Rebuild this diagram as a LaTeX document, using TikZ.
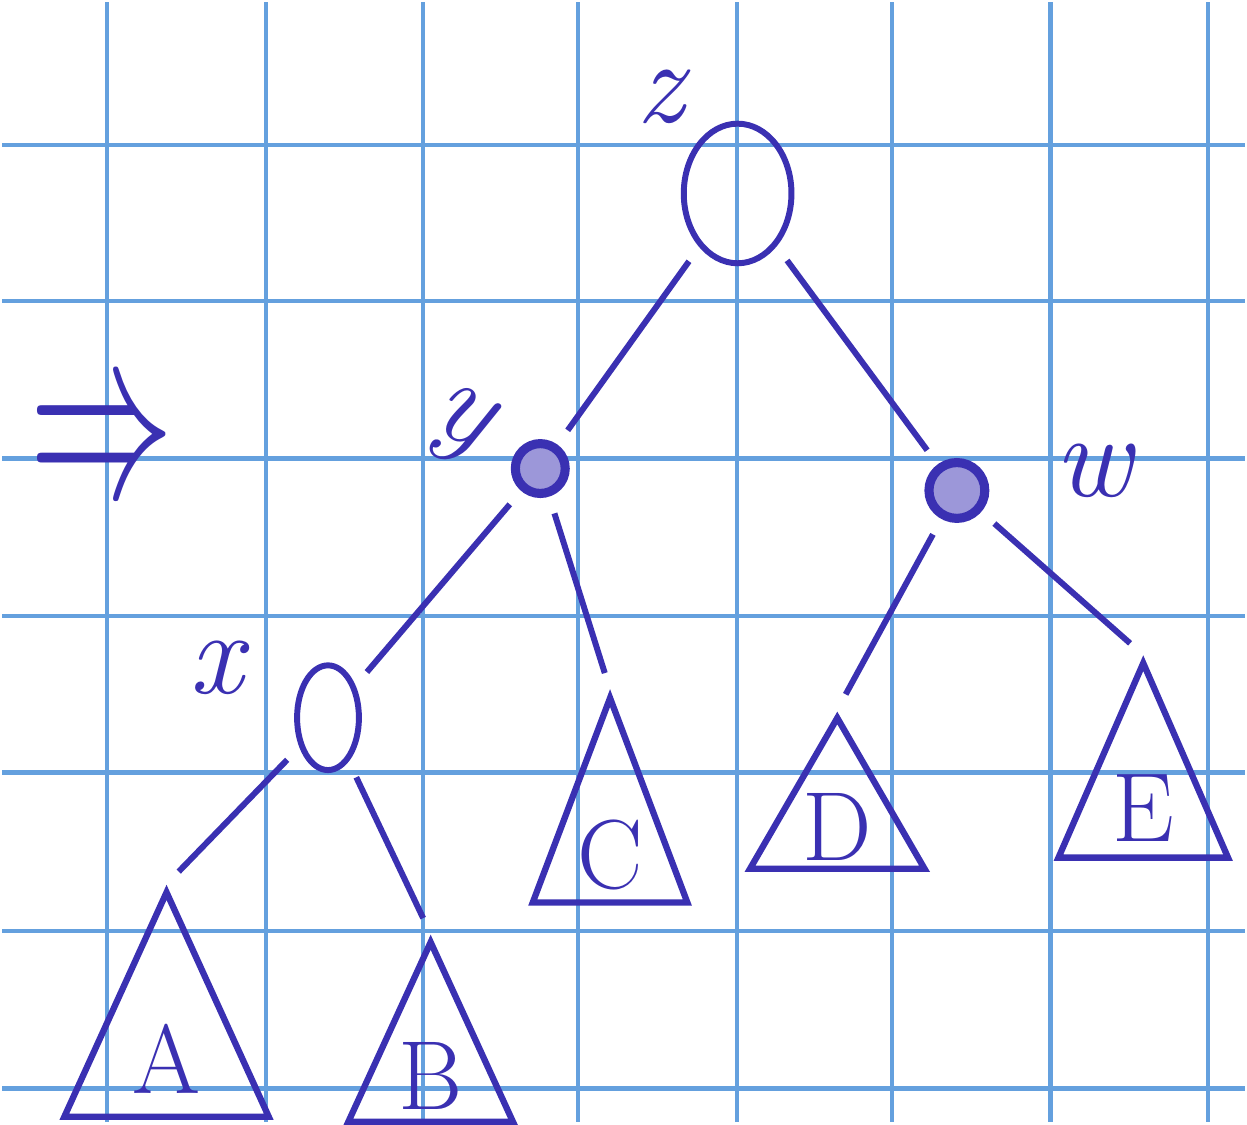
\documentclass[tikz,border=0pt]{standalone}
\usepackage{xcolor}
\usepackage{tikz}
\usetikzlibrary{shapes.geometric}
\definecolor{ink}{RGB}{58,48,178}
\definecolor{gridblue}{RGB}{100,160,222}

\begin{document}
\begin{tikzpicture}[x=0.01cm, y=-0.01cm,
paper/.style={gridblue, line width=1.2pt},
bignode/.style={draw=ink, ellipse, line width=1.7pt, inner sep=0pt},
smallnode/.style={draw=ink, circle, line width=2.6pt, fill=ink!50, inner sep=0pt},
subtree/.style={draw=ink, isosceles triangle, isosceles triangle stretches, shape border rotate=90, line width=1.8pt, inner sep=0pt, anchor=apex, text=ink, font=\fontsize{28}{30}\selectfont},
tag/.style={text=ink, font=\fontsize{34}{36}\selectfont\itshape},
edge/.style={ink, line width=1.7pt, shorten <=5pt, shorten >=5pt}
]
\fill[white] (0,0) rectangle (1247,1124);
% squared paper
\foreach \gx in {105,265,422,578,737,893,1052,1210}
  \draw[paper] (\gx,0) -- (\gx,1124);
\foreach \gy in {143,300,458,616,773,932,1090}
  \draw[paper] (0,\gy) -- (1247,\gy);

\node[text=ink, inner sep=0pt] (implies) at (100,450) {\resizebox{1.45cm}{0.9cm}{$\Rightarrow$}};

\node[bignode, minimum width=1.08cm, minimum height=1.4cm] (z) at (738,192) {};
\node[smallnode, minimum size=0.5cm] (y) at (540,468) {};
\node[smallnode, minimum size=0.56cm] (w) at (958,490) {};
\node[bignode, minimum width=0.62cm, minimum height=1.05cm] (x) at (327,718) {};

\node[tag] (zlabel) at (660,95) {z};
\node[tag, rotate=-25] (ylabel) at (458,425) {y};
\node[tag] (wlabel) at (1095,470) {w};
\node[tag] (xlabel) at (215,668) {x};

\node[subtree, minimum width=2.05cm, minimum height=2.25cm] (A) at (165,885) {A};
\node[subtree, minimum width=1.65cm, minimum height=1.8cm] (B) at (430,935) {B};
\node[subtree, minimum width=1.55cm, minimum height=2.05cm] (C) at (610,690) {C};
\node[subtree, minimum width=1.75cm, minimum height=1.35cm] (D) at (838,710) {D};
\node[subtree, minimum width=1.7cm, minimum height=1.95cm] (E) at (1145,655) {E};

\draw[edge] (z) -- (y);
\draw[edge] (z) -- (w);
\draw[edge] (y) -- (x);
\draw[edge] (y) -- (C.apex);
\draw[edge] (w) -- (D.apex);
\draw[edge] (w) -- (E.apex);
\draw[edge] (x) -- (A.apex);
\draw[edge] (x) -- (B.apex);
\end{tikzpicture}
\end{document}
